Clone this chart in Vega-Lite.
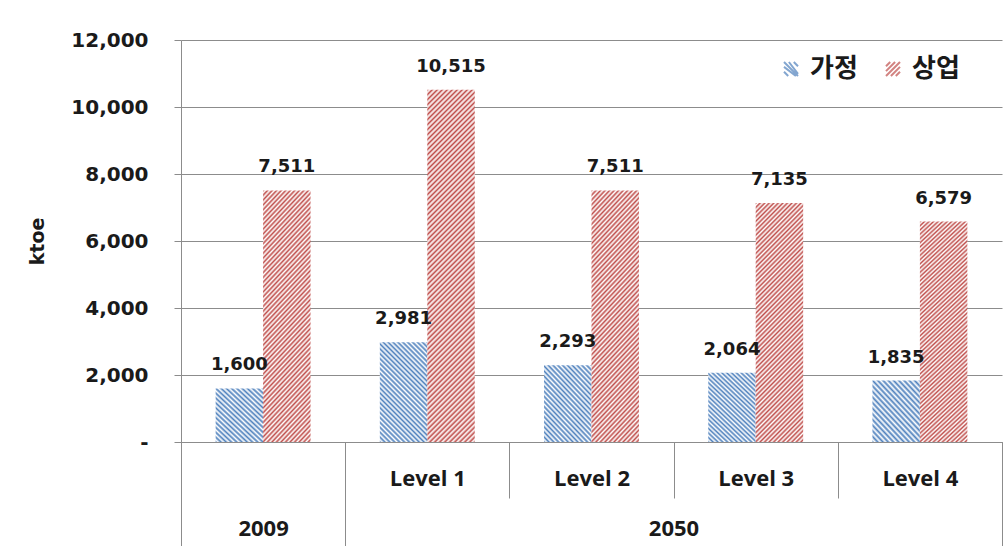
{
"$schema":"https://vega.github.io/schema/vega-lite/v6.json",
"width":821,"height":402,
"autosize":"none",
"padding":{"left":181,"top":40,"right":6,"bottom":104},
"background":"white",
"config":{"view":{"stroke":null},"font":"DejaVu Sans"},
"data":{"values":[
{"cat":"2009","series":"가정","value":1600},
{"cat":"2009","series":"상업","value":7511},
{"cat":"Level 1","series":"가정","value":2981},
{"cat":"Level 1","series":"상업","value":10515},
{"cat":"Level 2","series":"가정","value":2293},
{"cat":"Level 2","series":"상업","value":7511},
{"cat":"Level 3","series":"가정","value":2064},
{"cat":"Level 3","series":"상업","value":7135},
{"cat":"Level 4","series":"가정","value":1835},
{"cat":"Level 4","series":"상업","value":6579}
]},
"encoding":{
"xOffset":{"field":"series","type":"nominal","scale":{"domain":["가정","상업"],"paddingInner":0,"paddingOuter":0.73}},
"y":{"field":"value","type":"quantitative","scale":{"domain":[0,12000],"nice":false},
"axis":{"values":[0,2000,4000,6000,8000,10000,12000],"labelExpr":"datum.value == 0 ? '-' : format(datum.value, ',')","labelFont":"DejaVu Sans","labelFontSize":20,"labelFontWeight":"bold","labelColor":"#1a1a1a","labelPadding":26,"tickSize":7,"tickColor":"#8c8c8c","domainColor":"#8c8c8c","gridColor":"#8c8c8c","grid":true,"title":"ktoe","titleFont":"DejaVu Sans","titleFontSize":19,"titleFontWeight":"bold","titleColor":"#1a1a1a","titleAngle":270,"titleX":-144,"titleY":201,"titleAlign":"center","titleBaseline":"middle"}}
},
"layer":[
{"mark":{"type":"point","filled":false,"size":0},
"encoding":{
"x":{"field":"cat","type":"nominal","scale":{"domain":["2009","Level 1","Level 2","Level 3","Level 4"],"paddingInner":0,"paddingOuter":0},
"axis":{"orient":"bottom","values":["2009","Level 4"],"tickBand":"extent","tickSize":104,"tickColor":"#8c8c8c","domainColor":"#8c8c8c","labelExpr":"datum.value == '2009' ? '2009' : ''","labelFont":"Open Sans","labelFontSize":22,"labelFontWeight":"bold","labelColor":"#1a1a1a","labelAngle":0,"labelBaseline":"middle","labelPadding":-18,"title":"2050","titleFont":"Open Sans","titleFontSize":22,"titleFontWeight":"bold","titleColor":"#1a1a1a","titleX":492.5,"titleY":86,"titleBaseline":"middle","titleAlign":"center"}},
"stroke":{"field":"series","type":"nominal","scale":{"domain":["가정","상업"],"range":["#4f81bd","#c0504d"]},
"legend":{"title":null,"orient":"none","legendX":597,"legendY":16,"direction":"horizontal","symbolSize":196,"symbolStrokeWidth":2,"symbolFillColor":"transparent","labelFont":"Noto Sans CJK KR","labelFontSize":26,"labelFontWeight":"bold","labelColor":"#1a1a1a","labelOffset":6,"columnPadding":22}},
"shape":{"field":"series","type":"nominal","scale":{"domain":["가정","상업"],"range":["M-1,-1L1,1M-0.3,-1L1,0.7M0.4,-1L1,-0.4M-1,-0.3L0.7,1M-1,0.4L-0.4,1","M-1,1L1,-1M-0.3,1L1,-0.3M0.4,1L1,0.4M-1,0.3L0.3,-1M-1,-0.4L-0.4,-1"]},
"legend":{"title":null,"orient":"none","legendX":597,"legendY":16,"direction":"horizontal","symbolSize":196,"symbolStrokeWidth":2,"symbolFillColor":"transparent","labelFont":"Noto Sans CJK KR","labelFontSize":26,"labelFontWeight":"bold","labelColor":"#1a1a1a","labelOffset":6,"columnPadding":22}}
}},
{"mark":{"type":"bar"},
"encoding":{
"x":{"field":"cat","type":"nominal","scale":{"domain":["2009","Level 1","Level 2","Level 3","Level 4"],"paddingInner":0,"paddingOuter":0},
"axis":{"orient":"bottom","tickBand":"extent","tickSize":56,"tickColor":"#8c8c8c","domainColor":"#8c8c8c","labelExpr":"datum.value == '2009' ? '' : datum.label","labelFont":"Open Sans","labelFontSize":22,"labelFontWeight":"bold","labelColor":"#1a1a1a","labelAngle":0,"labelBaseline":"middle","labelPadding":-20,"title":null}},
"fill":{"condition":[
{"test":"datum.value == 10515","value":{"gradient":"linear","x1":0,"y1":0,"x2":0.1501,"y2":1.1145,"stops":[
{"offset":0,"color":"#c0504d"},{"offset":0.00625,"color":"#fff"},{"offset":0.0125,"color":"#c0504d"},{"offset":0.01875,"color":"#fff"},{"offset":0.025,"color":"#c0504d"},{"offset":0.03125,"color":"#fff"},{"offset":0.0375,"color":"#c0504d"},{"offset":0.04375,"color":"#fff"},{"offset":0.05,"color":"#c0504d"},{"offset":0.05625,"color":"#fff"},{"offset":0.0625,"color":"#c0504d"},{"offset":0.06875,"color":"#fff"},{"offset":0.075,"color":"#c0504d"},{"offset":0.08125,"color":"#fff"},{"offset":0.0875,"color":"#c0504d"},{"offset":0.09375,"color":"#fff"},
{"offset":0.1,"color":"#c0504d"},{"offset":0.10625,"color":"#fff"},{"offset":0.1125,"color":"#c0504d"},{"offset":0.11875,"color":"#fff"},{"offset":0.125,"color":"#c0504d"},{"offset":0.13125,"color":"#fff"},{"offset":0.1375,"color":"#c0504d"},{"offset":0.14375,"color":"#fff"},{"offset":0.15,"color":"#c0504d"},{"offset":0.15625,"color":"#fff"},{"offset":0.1625,"color":"#c0504d"},{"offset":0.16875,"color":"#fff"},{"offset":0.175,"color":"#c0504d"},{"offset":0.18125,"color":"#fff"},{"offset":0.1875,"color":"#c0504d"},{"offset":0.19375,"color":"#fff"},
{"offset":0.2,"color":"#c0504d"},{"offset":0.20625,"color":"#fff"},{"offset":0.2125,"color":"#c0504d"},{"offset":0.21875,"color":"#fff"},{"offset":0.225,"color":"#c0504d"},{"offset":0.23125,"color":"#fff"},{"offset":0.2375,"color":"#c0504d"},{"offset":0.24375,"color":"#fff"},{"offset":0.25,"color":"#c0504d"},{"offset":0.25625,"color":"#fff"},{"offset":0.2625,"color":"#c0504d"},{"offset":0.26875,"color":"#fff"},{"offset":0.275,"color":"#c0504d"},{"offset":0.28125,"color":"#fff"},{"offset":0.2875,"color":"#c0504d"},{"offset":0.29375,"color":"#fff"},
{"offset":0.3,"color":"#c0504d"},{"offset":0.30625,"color":"#fff"},{"offset":0.3125,"color":"#c0504d"},{"offset":0.31875,"color":"#fff"},{"offset":0.325,"color":"#c0504d"},{"offset":0.33125,"color":"#fff"},{"offset":0.3375,"color":"#c0504d"},{"offset":0.34375,"color":"#fff"},{"offset":0.35,"color":"#c0504d"},{"offset":0.35625,"color":"#fff"},{"offset":0.3625,"color":"#c0504d"},{"offset":0.36875,"color":"#fff"},{"offset":0.375,"color":"#c0504d"},{"offset":0.38125,"color":"#fff"},{"offset":0.3875,"color":"#c0504d"},{"offset":0.39375,"color":"#fff"},
{"offset":0.4,"color":"#c0504d"},{"offset":0.40625,"color":"#fff"},{"offset":0.4125,"color":"#c0504d"},{"offset":0.41875,"color":"#fff"},{"offset":0.425,"color":"#c0504d"},{"offset":0.43125,"color":"#fff"},{"offset":0.4375,"color":"#c0504d"},{"offset":0.44375,"color":"#fff"},{"offset":0.45,"color":"#c0504d"},{"offset":0.45625,"color":"#fff"},{"offset":0.4625,"color":"#c0504d"},{"offset":0.46875,"color":"#fff"},{"offset":0.475,"color":"#c0504d"},{"offset":0.48125,"color":"#fff"},{"offset":0.4875,"color":"#c0504d"},{"offset":0.49375,"color":"#fff"},
{"offset":0.5,"color":"#c0504d"},{"offset":0.50625,"color":"#fff"},{"offset":0.5125,"color":"#c0504d"},{"offset":0.51875,"color":"#fff"},{"offset":0.525,"color":"#c0504d"},{"offset":0.53125,"color":"#fff"},{"offset":0.5375,"color":"#c0504d"},{"offset":0.54375,"color":"#fff"},{"offset":0.55,"color":"#c0504d"},{"offset":0.55625,"color":"#fff"},{"offset":0.5625,"color":"#c0504d"},{"offset":0.56875,"color":"#fff"},{"offset":0.575,"color":"#c0504d"},{"offset":0.58125,"color":"#fff"},{"offset":0.5875,"color":"#c0504d"},{"offset":0.59375,"color":"#fff"},
{"offset":0.6,"color":"#c0504d"},{"offset":0.60625,"color":"#fff"},{"offset":0.6125,"color":"#c0504d"},{"offset":0.61875,"color":"#fff"},{"offset":0.625,"color":"#c0504d"},{"offset":0.63125,"color":"#fff"},{"offset":0.6375,"color":"#c0504d"},{"offset":0.64375,"color":"#fff"},{"offset":0.65,"color":"#c0504d"},{"offset":0.65625,"color":"#fff"},{"offset":0.6625,"color":"#c0504d"},{"offset":0.66875,"color":"#fff"},{"offset":0.675,"color":"#c0504d"},{"offset":0.68125,"color":"#fff"},{"offset":0.6875,"color":"#c0504d"},{"offset":0.69375,"color":"#fff"},
{"offset":0.7,"color":"#c0504d"},{"offset":0.70625,"color":"#fff"},{"offset":0.7125,"color":"#c0504d"},{"offset":0.71875,"color":"#fff"},{"offset":0.725,"color":"#c0504d"},{"offset":0.73125,"color":"#fff"},{"offset":0.7375,"color":"#c0504d"},{"offset":0.74375,"color":"#fff"},{"offset":0.75,"color":"#c0504d"},{"offset":0.75625,"color":"#fff"},{"offset":0.7625,"color":"#c0504d"},{"offset":0.76875,"color":"#fff"},{"offset":0.775,"color":"#c0504d"},{"offset":0.78125,"color":"#fff"},{"offset":0.7875,"color":"#c0504d"},{"offset":0.79375,"color":"#fff"},
{"offset":0.8,"color":"#c0504d"},{"offset":0.80625,"color":"#fff"},{"offset":0.8125,"color":"#c0504d"},{"offset":0.81875,"color":"#fff"},{"offset":0.825,"color":"#c0504d"},{"offset":0.83125,"color":"#fff"},{"offset":0.8375,"color":"#c0504d"},{"offset":0.84375,"color":"#fff"},{"offset":0.85,"color":"#c0504d"},{"offset":0.85625,"color":"#fff"},{"offset":0.8625,"color":"#c0504d"},{"offset":0.86875,"color":"#fff"},{"offset":0.875,"color":"#c0504d"},{"offset":0.88125,"color":"#fff"},{"offset":0.8875,"color":"#c0504d"},{"offset":0.89375,"color":"#fff"},
{"offset":0.9,"color":"#c0504d"},{"offset":0.90625,"color":"#fff"},{"offset":0.9125,"color":"#c0504d"},{"offset":0.91875,"color":"#fff"},{"offset":0.925,"color":"#c0504d"},{"offset":0.93125,"color":"#fff"},{"offset":0.9375,"color":"#c0504d"},{"offset":0.94375,"color":"#fff"},{"offset":0.95,"color":"#c0504d"},{"offset":0.95625,"color":"#fff"},{"offset":0.9625,"color":"#c0504d"},{"offset":0.96875,"color":"#fff"},{"offset":0.975,"color":"#c0504d"},{"offset":0.98125,"color":"#fff"},{"offset":0.9875,"color":"#c0504d"},{"offset":0.99375,"color":"#fff"},
{"offset":1,"color":"#c0504d"}]}},
{"test":"datum.series == '상업'","value":{"gradient":"linear","x1":0,"y1":0,"x2":0.2321,"y2":1.1544,"stops":[
{"offset":0,"color":"#c0504d"},{"offset":0.008,"color":"#fff"},{"offset":0.016,"color":"#c0504d"},{"offset":0.024,"color":"#fff"},{"offset":0.032,"color":"#c0504d"},{"offset":0.04,"color":"#fff"},{"offset":0.048,"color":"#c0504d"},{"offset":0.056,"color":"#fff"},{"offset":0.064,"color":"#c0504d"},{"offset":0.072,"color":"#fff"},{"offset":0.08,"color":"#c0504d"},{"offset":0.088,"color":"#fff"},{"offset":0.096,"color":"#c0504d"},{"offset":0.104,"color":"#fff"},{"offset":0.112,"color":"#c0504d"},{"offset":0.12,"color":"#fff"},{"offset":0.128,"color":"#c0504d"},{"offset":0.136,"color":"#fff"},{"offset":0.144,"color":"#c0504d"},{"offset":0.152,"color":"#fff"},{"offset":0.16,"color":"#c0504d"},{"offset":0.168,"color":"#fff"},{"offset":0.176,"color":"#c0504d"},{"offset":0.184,"color":"#fff"},{"offset":0.192,"color":"#c0504d"},{"offset":0.2,"color":"#fff"},
{"offset":0.208,"color":"#c0504d"},{"offset":0.216,"color":"#fff"},{"offset":0.224,"color":"#c0504d"},{"offset":0.232,"color":"#fff"},{"offset":0.24,"color":"#c0504d"},{"offset":0.248,"color":"#fff"},{"offset":0.256,"color":"#c0504d"},{"offset":0.264,"color":"#fff"},{"offset":0.272,"color":"#c0504d"},{"offset":0.28,"color":"#fff"},{"offset":0.288,"color":"#c0504d"},{"offset":0.296,"color":"#fff"},{"offset":0.304,"color":"#c0504d"},{"offset":0.312,"color":"#fff"},{"offset":0.32,"color":"#c0504d"},{"offset":0.328,"color":"#fff"},{"offset":0.336,"color":"#c0504d"},{"offset":0.344,"color":"#fff"},{"offset":0.352,"color":"#c0504d"},{"offset":0.36,"color":"#fff"},{"offset":0.368,"color":"#c0504d"},{"offset":0.376,"color":"#fff"},{"offset":0.384,"color":"#c0504d"},{"offset":0.392,"color":"#fff"},{"offset":0.4,"color":"#c0504d"},
{"offset":0.408,"color":"#fff"},{"offset":0.416,"color":"#c0504d"},{"offset":0.424,"color":"#fff"},{"offset":0.432,"color":"#c0504d"},{"offset":0.44,"color":"#fff"},{"offset":0.448,"color":"#c0504d"},{"offset":0.456,"color":"#fff"},{"offset":0.464,"color":"#c0504d"},{"offset":0.472,"color":"#fff"},{"offset":0.48,"color":"#c0504d"},{"offset":0.488,"color":"#fff"},{"offset":0.496,"color":"#c0504d"},{"offset":0.504,"color":"#fff"},{"offset":0.512,"color":"#c0504d"},{"offset":0.52,"color":"#fff"},{"offset":0.528,"color":"#c0504d"},{"offset":0.536,"color":"#fff"},{"offset":0.544,"color":"#c0504d"},{"offset":0.552,"color":"#fff"},{"offset":0.56,"color":"#c0504d"},{"offset":0.568,"color":"#fff"},{"offset":0.576,"color":"#c0504d"},{"offset":0.584,"color":"#fff"},{"offset":0.592,"color":"#c0504d"},{"offset":0.6,"color":"#fff"},
{"offset":0.608,"color":"#c0504d"},{"offset":0.616,"color":"#fff"},{"offset":0.624,"color":"#c0504d"},{"offset":0.632,"color":"#fff"},{"offset":0.64,"color":"#c0504d"},{"offset":0.648,"color":"#fff"},{"offset":0.656,"color":"#c0504d"},{"offset":0.664,"color":"#fff"},{"offset":0.672,"color":"#c0504d"},{"offset":0.68,"color":"#fff"},{"offset":0.688,"color":"#c0504d"},{"offset":0.696,"color":"#fff"},{"offset":0.704,"color":"#c0504d"},{"offset":0.712,"color":"#fff"},{"offset":0.72,"color":"#c0504d"},{"offset":0.728,"color":"#fff"},{"offset":0.736,"color":"#c0504d"},{"offset":0.744,"color":"#fff"},{"offset":0.752,"color":"#c0504d"},{"offset":0.76,"color":"#fff"},{"offset":0.768,"color":"#c0504d"},{"offset":0.776,"color":"#fff"},{"offset":0.784,"color":"#c0504d"},{"offset":0.792,"color":"#fff"},{"offset":0.8,"color":"#c0504d"},
{"offset":0.808,"color":"#fff"},{"offset":0.816,"color":"#c0504d"},{"offset":0.824,"color":"#fff"},{"offset":0.832,"color":"#c0504d"},{"offset":0.84,"color":"#fff"},{"offset":0.848,"color":"#c0504d"},{"offset":0.856,"color":"#fff"},{"offset":0.864,"color":"#c0504d"},{"offset":0.872,"color":"#fff"},{"offset":0.88,"color":"#c0504d"},{"offset":0.888,"color":"#fff"},{"offset":0.896,"color":"#c0504d"},{"offset":0.904,"color":"#fff"},{"offset":0.912,"color":"#c0504d"},{"offset":0.92,"color":"#fff"},{"offset":0.928,"color":"#c0504d"},{"offset":0.936,"color":"#fff"},{"offset":0.944,"color":"#c0504d"},{"offset":0.952,"color":"#fff"},{"offset":0.96,"color":"#c0504d"},{"offset":0.968,"color":"#fff"},{"offset":0.976,"color":"#c0504d"},{"offset":0.984,"color":"#fff"},{"offset":0.992,"color":"#c0504d"},{"offset":1,"color":"#fff"}]}},
{"test":"datum.value == 2981","value":{"gradient":"linear","x1":0,"y1":1,"x2":0.5718,"y2":-0.2035,"stops":[
{"offset":0,"color":"#4f81bd"},{"offset":0.0167,"color":"#fff"},{"offset":0.0333,"color":"#4f81bd"},{"offset":0.05,"color":"#fff"},{"offset":0.0667,"color":"#4f81bd"},{"offset":0.0833,"color":"#fff"},{"offset":0.1,"color":"#4f81bd"},{"offset":0.1167,"color":"#fff"},{"offset":0.1333,"color":"#4f81bd"},{"offset":0.15,"color":"#fff"},{"offset":0.1667,"color":"#4f81bd"},{"offset":0.1833,"color":"#fff"},{"offset":0.2,"color":"#4f81bd"},{"offset":0.2167,"color":"#fff"},{"offset":0.2333,"color":"#4f81bd"},{"offset":0.25,"color":"#fff"},{"offset":0.2667,"color":"#4f81bd"},{"offset":0.2833,"color":"#fff"},{"offset":0.3,"color":"#4f81bd"},{"offset":0.3167,"color":"#fff"},{"offset":0.3333,"color":"#4f81bd"},{"offset":0.35,"color":"#fff"},{"offset":0.3667,"color":"#4f81bd"},{"offset":0.3833,"color":"#fff"},{"offset":0.4,"color":"#4f81bd"},{"offset":0.4167,"color":"#fff"},{"offset":0.4333,"color":"#4f81bd"},{"offset":0.45,"color":"#fff"},{"offset":0.4667,"color":"#4f81bd"},{"offset":0.4833,"color":"#fff"},
{"offset":0.5,"color":"#4f81bd"},{"offset":0.5167,"color":"#fff"},{"offset":0.5333,"color":"#4f81bd"},{"offset":0.55,"color":"#fff"},{"offset":0.5667,"color":"#4f81bd"},{"offset":0.5833,"color":"#fff"},{"offset":0.6,"color":"#4f81bd"},{"offset":0.6167,"color":"#fff"},{"offset":0.6333,"color":"#4f81bd"},{"offset":0.65,"color":"#fff"},{"offset":0.6667,"color":"#4f81bd"},{"offset":0.6833,"color":"#fff"},{"offset":0.7,"color":"#4f81bd"},{"offset":0.7167,"color":"#fff"},{"offset":0.7333,"color":"#4f81bd"},{"offset":0.75,"color":"#fff"},{"offset":0.7667,"color":"#4f81bd"},{"offset":0.7833,"color":"#fff"},{"offset":0.8,"color":"#4f81bd"},{"offset":0.8167,"color":"#fff"},{"offset":0.8333,"color":"#4f81bd"},{"offset":0.85,"color":"#fff"},{"offset":0.8667,"color":"#4f81bd"},{"offset":0.8833,"color":"#fff"},{"offset":0.9,"color":"#4f81bd"},{"offset":0.9167,"color":"#fff"},{"offset":0.9333,"color":"#4f81bd"},{"offset":0.95,"color":"#fff"},{"offset":0.9667,"color":"#4f81bd"},{"offset":0.9833,"color":"#fff"},{"offset":1,"color":"#4f81bd"}]}},
{"test":"datum.value == 2293 || datum.value == 2064","value":{"gradient":"linear","x1":0,"y1":1,"x2":0.7539,"y2":-0.1599,"stops":[
{"offset":0,"color":"#4f81bd"},{"offset":0.02,"color":"#fff"},{"offset":0.04,"color":"#4f81bd"},{"offset":0.06,"color":"#fff"},{"offset":0.08,"color":"#4f81bd"},{"offset":0.1,"color":"#fff"},{"offset":0.12,"color":"#4f81bd"},{"offset":0.14,"color":"#fff"},{"offset":0.16,"color":"#4f81bd"},{"offset":0.18,"color":"#fff"},{"offset":0.2,"color":"#4f81bd"},{"offset":0.22,"color":"#fff"},{"offset":0.24,"color":"#4f81bd"},{"offset":0.26,"color":"#fff"},{"offset":0.28,"color":"#4f81bd"},{"offset":0.3,"color":"#fff"},{"offset":0.32,"color":"#4f81bd"},{"offset":0.34,"color":"#fff"},{"offset":0.36,"color":"#4f81bd"},{"offset":0.38,"color":"#fff"},{"offset":0.4,"color":"#4f81bd"},{"offset":0.42,"color":"#fff"},{"offset":0.44,"color":"#4f81bd"},{"offset":0.46,"color":"#fff"},{"offset":0.48,"color":"#4f81bd"},{"offset":0.5,"color":"#fff"},
{"offset":0.52,"color":"#4f81bd"},{"offset":0.54,"color":"#fff"},{"offset":0.56,"color":"#4f81bd"},{"offset":0.58,"color":"#fff"},{"offset":0.6,"color":"#4f81bd"},{"offset":0.62,"color":"#fff"},{"offset":0.64,"color":"#4f81bd"},{"offset":0.66,"color":"#fff"},{"offset":0.68,"color":"#4f81bd"},{"offset":0.7,"color":"#fff"},{"offset":0.72,"color":"#4f81bd"},{"offset":0.74,"color":"#fff"},{"offset":0.76,"color":"#4f81bd"},{"offset":0.78,"color":"#fff"},{"offset":0.8,"color":"#4f81bd"},{"offset":0.82,"color":"#fff"},{"offset":0.84,"color":"#4f81bd"},{"offset":0.86,"color":"#fff"},{"offset":0.88,"color":"#4f81bd"},{"offset":0.9,"color":"#fff"},{"offset":0.92,"color":"#4f81bd"},{"offset":0.94,"color":"#fff"},{"offset":0.96,"color":"#4f81bd"},{"offset":0.98,"color":"#fff"},{"offset":1,"color":"#4f81bd"}]}}
],
"value":{"gradient":"linear","x1":0,"y1":1,"x2":0.896,"y2":-0.0858,"stops":[
{"offset":0,"color":"#4f81bd"},{"offset":0.025,"color":"#fff"},{"offset":0.05,"color":"#4f81bd"},{"offset":0.075,"color":"#fff"},{"offset":0.1,"color":"#4f81bd"},{"offset":0.125,"color":"#fff"},{"offset":0.15,"color":"#4f81bd"},{"offset":0.175,"color":"#fff"},{"offset":0.2,"color":"#4f81bd"},{"offset":0.225,"color":"#fff"},{"offset":0.25,"color":"#4f81bd"},{"offset":0.275,"color":"#fff"},{"offset":0.3,"color":"#4f81bd"},{"offset":0.325,"color":"#fff"},{"offset":0.35,"color":"#4f81bd"},{"offset":0.375,"color":"#fff"},{"offset":0.4,"color":"#4f81bd"},{"offset":0.425,"color":"#fff"},{"offset":0.45,"color":"#4f81bd"},{"offset":0.475,"color":"#fff"},{"offset":0.5,"color":"#4f81bd"},
{"offset":0.525,"color":"#fff"},{"offset":0.55,"color":"#4f81bd"},{"offset":0.575,"color":"#fff"},{"offset":0.6,"color":"#4f81bd"},{"offset":0.625,"color":"#fff"},{"offset":0.65,"color":"#4f81bd"},{"offset":0.675,"color":"#fff"},{"offset":0.7,"color":"#4f81bd"},{"offset":0.725,"color":"#fff"},{"offset":0.75,"color":"#4f81bd"},{"offset":0.775,"color":"#fff"},{"offset":0.8,"color":"#4f81bd"},{"offset":0.825,"color":"#fff"},{"offset":0.85,"color":"#4f81bd"},{"offset":0.875,"color":"#fff"},{"offset":0.9,"color":"#4f81bd"},{"offset":0.925,"color":"#fff"},{"offset":0.95,"color":"#4f81bd"},{"offset":0.975,"color":"#fff"},{"offset":1,"color":"#4f81bd"}]}}
}},
{"mark":{"type":"text","dy":-23,"font":"DejaVu Sans","fontSize":18,"fontWeight":"bold","color":"#1a1a1a","baseline":"middle"},
"encoding":{
"x":{"field":"cat","type":"nominal","scale":{"domain":["2009","Level 1","Level 2","Level 3","Level 4"],"paddingInner":0,"paddingOuter":0},"axis":null},
"text":{"field":"value","type":"quantitative","format":","}
}}
],
"resolve":{"axis":{"x":"independent"}}
}
